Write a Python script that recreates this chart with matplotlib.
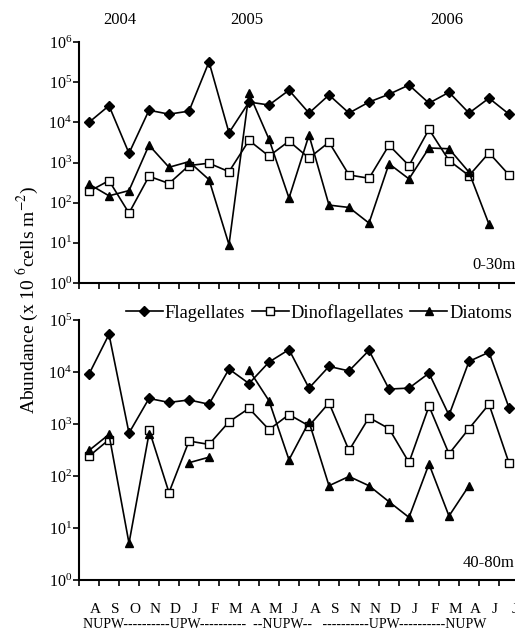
import numpy as np
import matplotlib
matplotlib.use("Agg")
import matplotlib.pyplot as plt
from matplotlib.ticker import LogLocator, LogFormatterMathtext, FixedLocator, NullFormatter

plt.rcParams['font.family'] = ['Liberation Serif', 'DejaVu Serif']
plt.rcParams['mathtext.fontset'] = 'stix'

nan = np.nan

months = ['A', 'S', 'O', 'N', 'D', 'J', 'F', 'M', 'A', 'M', 'J',
          'A', 'S', 'N', 'N', 'D', 'J', 'F', 'M', 'A', 'J', 'J']
years = ['2004', '2005', '2006']
year_pos = [1.55, 7.9, 17.9]
seasons = 'NUPW----------UPW----------  --NUPW--   ----------UPW----------NUPW'

# 0-30 m
flag_top = [1.0e4, 2.6e4, 1.7e3, 2.0e4, 1.6e4, 1.9e4, 3.2e5, 5.5e3, 3.2e4, 2.7e4, 6.3e4,
            1.7e4, 4.8e4, 1.7e4, 3.2e4, 5.0e4, 8.5e4, 3.0e4, 5.6e4, 1.7e4, 4.0e4, 1.6e4]
dino_top = [190, 355, 55, 455, 300, 840, 960, 590, 3550, 1440, 3400,
            1290, 3200, 490, 405, 2700, 840, 6700, 1120, 470, 1740, 490]
diat_top = [290, 148, 200, 2700, 760, 1050, 375, 9, 5.3e4, 3800, 130,
            4800, 87, 76, 31, 930, 390, 2300, 2200, 575, 29, nan]

# 40-80 m
flag_bot = [9100, 5.3e4, 670, 3100, 2600, 2900, 2400, 1.14e4, 6000, 1.55e4, 2.7e4,
            4900, 1.28e4, 1.05e4, 2.6e4, 4700, 4900, 9500, 1480, 1.6e4, 2.4e4, 2050]
dino_bot = [240, 500, nan, 780, 48, 470, 405, 1100, 2000, 780, 1520,
            920, 2550, 310, 1330, 815, 182, 2200, 267, 815, 2400, 178]
diat_bot = [310, 630, 5.1, 650, nan, 180, 230, nan, 1.1e4, 2800, 205,
            1100, 65, 98, 65, 32, 16, 170, 17, 65, nan, nan]

x = np.arange(len(months))

fig = plt.figure(figsize=(5.15, 6.3), dpi=100)
W, H = 515, 630
ax1 = fig.add_axes([79 / W, 1 - 283 / H, 446 / W, 241 / H])
ax2 = fig.add_axes([79 / W, 1 - 580 / H, 446 / W, 260 / H])

style = dict(color='black', lw=1.2)
for ax, fl, dn, dt in [(ax1, flag_top, dino_top, diat_top), (ax2, flag_bot, dino_bot, diat_bot)]:
    ax.plot(x, fl, marker='D', ms=5, mfc='black', mec='black', label='Flagellates', **style)
    ax.plot(x, dn, marker='s', ms=6, mfc='white', mec='black', mew=1.0, label='Dinoflagellates', **style)
    ax.plot(x, dt, marker='^', ms=6, mfc='black', mec='black', label='Diatoms', **style)
    ax.set_yscale('log')
    ax.set_xlim(-0.5, 21.8)
    ax.spines['top'].set_visible(False)
    ax.spines['right'].set_visible(False)
    ax.spines['left'].set_linewidth(1.5)
    ax.spines['bottom'].set_linewidth(1.5)
    ax.xaxis.set_major_locator(FixedLocator(x - 0.5))
    ax.xaxis.set_major_formatter(NullFormatter())
    ax.yaxis.set_major_locator(LogLocator(base=10, numticks=10))
    ax.yaxis.set_major_formatter(LogFormatterMathtext())
    ax.yaxis.set_minor_locator(FixedLocator([]))
    ax.tick_params(axis='both', which='major', direction='out', length=4, width=1.2, labelsize=11.5, pad=1)

ax1.set_ylim(1, 1e6)
ax2.set_ylim(1, 1e5)

# month labels and upwelling periods under the lower panel
tr = ax2.get_xaxis_transform()
for xi, m in zip(x, months):
    ax2.text(xi + 0.3, -0.112, m, transform=tr, ha='center', va='center', fontsize=11)
ax2.text(-0.3, -0.173, seasons, transform=tr, ha='left', va='center', fontsize=10)

tr1 = ax1.get_xaxis_transform()
for yp, yr in zip(year_pos, years):
    ax1.text(yp, 1.09, yr, transform=tr1, ha='center', va='center', fontsize=12)

ax1.text(472 / W, 1 - 265 / H, '0-30m', transform=fig.transFigure, ha='left', va='center', fontsize=12)
ax2.text(463 / W, 1 - 563 / H, '40-80m', transform=fig.transFigure, ha='left', va='center', fontsize=12)

fig.text(27 / W, 1 - 300 / H, r'Abundance (x 10 $^{6}$cells m$^{-2}$)', rotation=90,
         ha='center', va='center', fontsize=14)

h, l = ax1.get_legend_handles_labels()
fig.legend(h, l, loc='center left', bbox_to_anchor=(126 / W, 1 - 313 / H), ncol=3,
           frameon=False, fontsize=13.3, handlelength=2.0, handletextpad=0.1,
           columnspacing=0.35, borderpad=0, borderaxespad=0)

fig.savefig('out.png', dpi=100)
